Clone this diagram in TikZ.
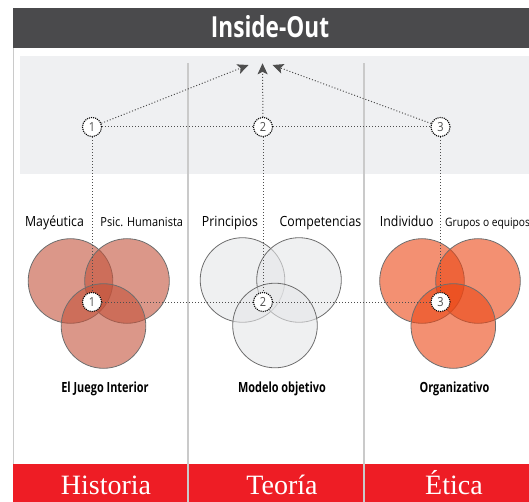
\documentclass[tikz,border=0pt]{standalone}
\usepackage{fontspec}
\setmainfont{Open Sans}
\newfontfamily\slimfont[FakeStretch=0.88]{Open Sans}
\newfontfamily\headfont[FakeStretch=0.78]{Open Sans}
\newfontfamily\footfont{Liberation Serif}
\usetikzlibrary{positioning, arrows.meta}

\definecolor{bardark}{HTML}{4A4A4C}
\definecolor{panelgrey}{HTML}{EFF0F2}
\definecolor{sepgrey}{HTML}{CACACA}
\definecolor{barred}{HTML}{EE1D25}
\definecolor{vennA}{RGB}{195,82,58}
\definecolor{vennB}{RGB}{229,230,232}
\definecolor{vennC}{RGB}{235,70,20}
\definecolor{rimgrey}{HTML}{6E6E6E}
\definecolor{dotgrey}{HTML}{4E4E4E}

\begin{document}
\begin{tikzpicture}[x=1pt, y=-1pt,
    venn/.style={fill=#1, fill opacity=.6, draw=rimgrey, draw opacity=1, line width=.8pt},
    num/.style={circle, draw=black, densely dotted, line width=1.1pt, fill=white,
                minimum size=19pt, inner sep=0pt, text=dotgrey,
                font=\slimfont\fontsize{12.5}{12.5}\selectfont},
    link/.style={draw=dotgrey, dotted, line width=1pt},
    tip/.style={-{Stealth[length=11pt, width=10pt, inset=2.5pt]}},
    sub/.style={anchor=base, font=\slimfont\fontsize{14}{14}\selectfont},
    subsmall/.style={anchor=base, font=\slimfont\fontsize{12.5}{12.5}\selectfont},
    caption/.style={anchor=base, font=\headfont\bfseries\fontsize{14}{14}\selectfont},
    foot/.style={anchor=base, text=white, font=\footfont\fontsize{28}{28}\selectfont}]
\useasboundingbox (0,0) rectangle (529,502);

\fill[panelgrey] (20,56) rectangle (529,174);
\fill[bardark] (13,8.4) rectangle (529,47.9);
\fill[barred] (13,464) rectangle (529,502);
\draw[sepgrey, line width=1pt] (13.3,47.9) -- (13.3,464);
\draw[sepgrey, line width=1.6pt] (188,63.5) -- (188,502);
\draw[sepgrey, line width=1.6pt] (364,63.5) -- (364,502);

\node[anchor=base, text=white, font=\headfont\bfseries\fontsize{29}{29}\selectfont] (title) at (270,37.3) {Inside-Out};

\draw[venn=vennA] (70.5,281) circle (42.3);
\draw[venn=vennA] (127,281) circle (42.3);
\draw[venn=vennA] (103.5,326) circle (42.3);
\draw[venn=vennB] (242.5,280) circle (42.3);
\draw[venn=vennB] (299,280) circle (42.3);
\draw[venn=vennB] (275,325.5) circle (42.3);
\draw[venn=vennC] (422,281) circle (42.3);
\draw[venn=vennC] (478,281) circle (42.3);
\draw[venn=vennC] (453.3,326) circle (42.3);

\coordinate (apexL) at (248.5,65);
\coordinate (apex) at (262.5,63.3);
\coordinate (apexR) at (272.5,65);

\node[num] (t1) at (92,127) {1};
\node[num] (t2) at (263,127) {2};
\node[num] (t3) at (440.5,127) {3};
\node[num] (b1) at (92,302) {1};
\node[num] (b2) at (263,302) {2};
\node[num] (b3) at (440.5,302) {3};

\draw[link, tip] (t1) -- (apexL);
\draw[link, tip] (t2) -- (apex);
\draw[link, tip] (t3) -- (apexR);
\draw[link] (t1) -- (t2) -- (t3);
\draw[link] (t1) -- (b1);
\draw[link] (t2) -- (b2);
\draw[link] (t3) -- (b3);
\draw[link] (b1) -- (b2) -- (b3);

\node[sub] (mayeutica) at (54.5,226.5) {Mayéutica};
\node[subsmall] (humanista) at (141.7,226.5) {Psic. Humanista};
\node[sub] (principios) at (230,226.5) {Principios};
\node[sub] (competencias) at (320.5,226.5) {Competencias};
\node[sub] (individuo) at (406.7,226.5) {Individuo};
\node[subsmall, anchor=base west, inner sep=0pt, font=\slimfont\fontsize{11.6}{11.6}\selectfont] (grupos) at (445,226.5) {Grupos o equipos};

\node[caption] (juego) at (105,392.7) {El Juego Interior};
\node[caption] (modelo) at (282,392.7) {Modelo objetivo};
\node[caption] (organizativo) at (454.5,392.7) {Organizativo};

\node[foot] (historia) at (106,494.5) {Historia};
\node[foot] (teoria) at (282,494.5) {Teoría};
\node[foot] (etica) at (454,494.5) {Ética};
\end{tikzpicture}
\end{document}
